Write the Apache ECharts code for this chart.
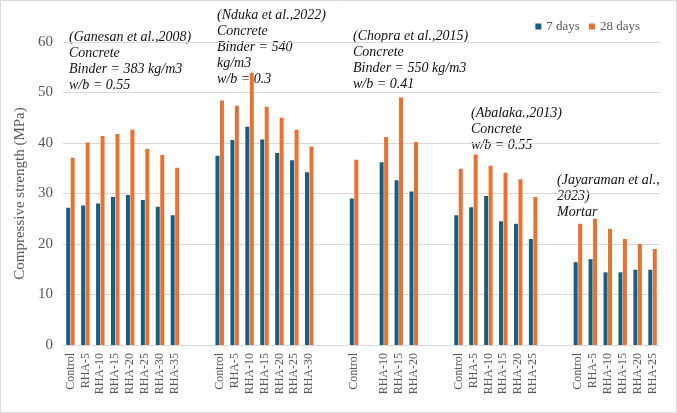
<!DOCTYPE html>
<html>
<head>
<meta charset="utf-8">
<script src="https://cdn.jsdelivr.net/npm/echarts@6/dist/echarts.min.js"></script>
<style>
  html, body { margin: 0; padding: 0; background: #fff; }
  #chart { width: 677px; height: 413px; }
</style>
</head>
<body>
<div id="chart"></div>
<script>
// empty strings are the blank slots between the studies
const categories = [
  "Control", "RHA-5", "RHA-10", "RHA-15", "RHA-20", "RHA-25", "RHA-30", "RHA-35", "", "",
  "Control", "RHA-5", "RHA-10", "RHA-15", "RHA-20", "RHA-25", "RHA-30", "", "",
  "Control", "", "RHA-10", "RHA-15", "RHA-20", "", "",
  "Control", "RHA-5", "RHA-10", "RHA-15", "RHA-20", "RHA-25", "", "",
  "Control", "RHA-5", "RHA-10", "RHA-15", "RHA-20", "RHA-25",
];

const days7 = [
  27.2, 27.6, 28.0, 29.3, 29.7, 28.7, 27.4, 25.7, null, null,
  37.5, 40.6, 43.2, 40.7, 38.0, 36.6, 34.2, null, null,
  29.0, null, 36.2, 32.6, 30.4, null, null,
  25.7, 27.3, 29.5, 24.5, 24.0, 21.0, null, null,
  16.4, 17.0, 14.4, 14.4, 14.9, 14.9,
];

const days28 = [
  37.1, 40.1, 41.4, 41.8, 42.6, 38.8, 37.6, 35.1, null, null,
  48.4, 47.4, 53.9, 47.2, 45.0, 42.6, 39.3, null, null,
  36.7, null, 41.2, 49.0, 40.2, null, null,
  34.9, 37.7, 35.5, 34.1, 32.8, 29.3, null, null,
  24.0, 25.0, 23.0, 21.0, 20.0, 19.0,
];

const notes = [
  { text: "(Ganesan et al.,2008)\nConcrete\nBinder = 383 kg/m3\nw/b = 0.55", left: 69, top: 29 },
  { text: "(Nduka et al.,2022)\nConcrete\nBinder = 540\nkg/m3\nw/b = 0.3", left: 217, top: 7 },
  { text: "(Chopra et al.,2015)\nConcrete\nBinder = 550 kg/m3\nw/b = 0.41", left: 353, top: 28 },
  { text: "(Abalaka.,2013)\nConcrete\nw/b = 0.55", left: 471, top: 105 },
  { text: "(Jayaraman et al.,\n2023)\nMortar", left: 557, top: 172 },
];

const serif = '"Liberation Serif", "Times New Roman", serif';
const gray = "#595959";

const chart = echarts.init(document.getElementById("chart"));

chart.setOption({
  animation: false,
  textStyle: { fontFamily: serif },
  legend: {
    right: 32,
    top: 15,
    itemWidth: 6,
    itemHeight: 6,
    itemGap: 9,
    icon: "rect",
    textStyle: { color: gray, fontSize: 13, fontFamily: serif },
    data: ["7 days", "28 days"],
  },
  grid: { left: 63, right: 17, top: 42, bottom: 68 },
  xAxis: {
    type: "category",
    data: categories,
    axisTick: { show: false },
    axisLine: { lineStyle: { color: "#d9d9d9" } },
    axisLabel: {
      rotate: 90,
      interval: 0,
      margin: 8,
      color: gray,
      fontSize: 12,
      fontFamily: serif,
    },
  },
  yAxis: {
    type: "value",
    min: 0,
    max: 60,
    interval: 10,
    name: "Compressive strength (MPa)",
    nameLocation: "middle",
    nameGap: 26,
    nameTextStyle: { color: gray, fontSize: 15, fontFamily: serif },
    axisLabel: { color: gray, fontSize: 15, margin: 10, fontFamily: serif },
    splitLine: { lineStyle: { color: "#d9d9d9" } },
  },
  series: [
    {
      name: "7 days",
      type: "bar",
      data: days7,
      barWidth: 4,
      barGap: "12%",
      itemStyle: { color: "#156082" },
    },
    {
      name: "28 days",
      type: "bar",
      data: days28,
      barWidth: 4,
      itemStyle: { color: "#E97132" },
    },
  ],
  graphic: [
    {
      type: "rect",
      silent: true,
      shape: { x: 0.5, y: 0.5, width: 676, height: 412 },
      style: { fill: "none", stroke: "#d9d9d9", lineWidth: 1 },
    },
    ...notes.map((n) => ({
      type: "text",
      left: n.left,
      top: n.top,
      silent: true,
      style: {
        text: n.text,
        font: 'italic 14px ' + serif,
        fill: "#111",
        lineHeight: 16,
      },
    })),
  ],
});
</script>
</body>
</html>
